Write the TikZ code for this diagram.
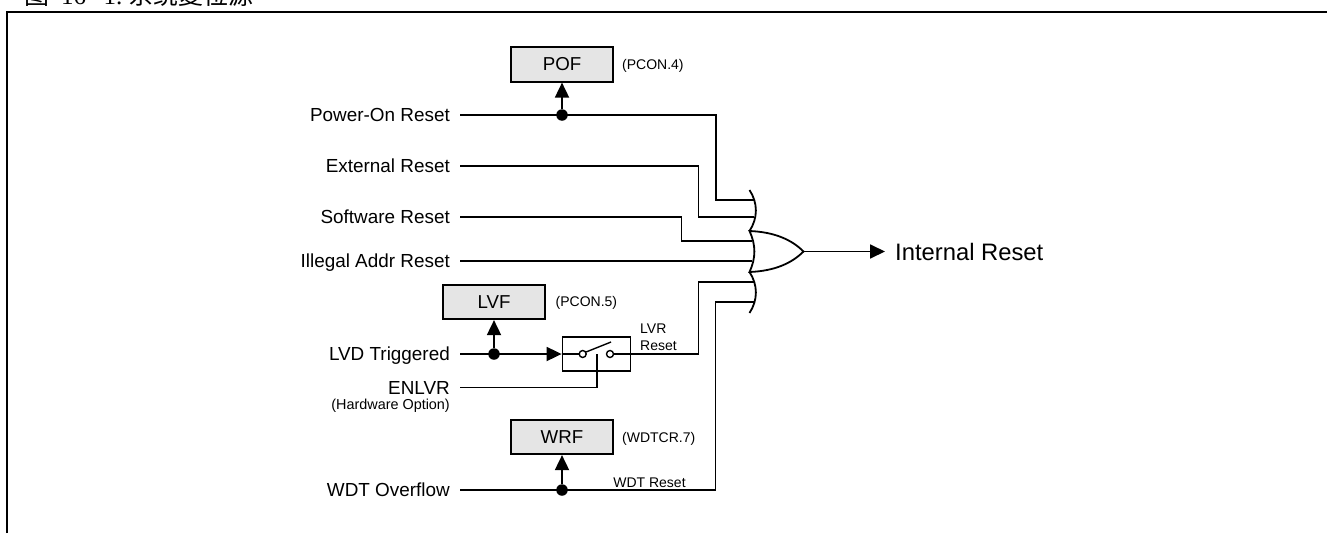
\documentclass[tikz,border=0pt]{standalone}
\usepackage{fontspec}
\setmainfont{Liberation Sans}
\newfontfamily\cjk{Noto Sans CJK SC}
\newfontfamily\capserif{Liberation Serif}
\usetikzlibrary{arrows.meta}
\tikzset{
 x=1pt,y=-1pt,
 wire/.style={line width=1.8pt,line join=miter},
 flag/.style={draw=black,fill=black!10,line width=1.7pt,minimum width=102pt,minimum height=34.5pt,inner sep=0pt,font=\fontsize{18.7}{20}\selectfont},
 lbl/.style={font=\fontsize{18.9}{20}\selectfont,anchor=base east,inner sep=0pt},
 small/.style={font=\fontsize{14}{15}\selectfont,inner sep=0pt},
 dotn/.style={circle,fill=black,inner sep=0pt,minimum size=11.5pt},
 hollow/.style={circle,draw=black,fill=white,line width=1.4pt,inner sep=0pt,minimum size=7pt},
 tip/.style={-{Triangle[length=15pt,width=14pt]}},
}
\begin{document}
\begin{tikzpicture}
\useasboundingbox (0,0) rectangle (1327,533);
% frame
\draw[line width=1.8pt] (7,533) -- (7,12) -- (1327,12);
\node[anchor=base west,inner sep=0pt,font=\fontsize{25}{27}\selectfont] (cap) at (24,4) {{\cjk 图}\hspace{12pt}{\capserif 16\hspace{9pt}-1.}\hspace{6pt}{\cjk 系统复位源}};
% flags
\node[flag] (pof) at (562,64.5) {POF};
\node[flag] (lvf) at (494,302) {LVF};
\node[flag] (wrf) at (562,437) {WRF};
\node[small,anchor=west] (pofn) at (622,66) {(PCON.4)};
\node[small,anchor=west] (lvfn) at (555.5,303) {(PCON.5)};
\node[small,anchor=west] (wrfn) at (622,439) {(WDTCR.7)};
% labels
\node[lbl] (por) at (450,121.5) {Power-On Reset};
\node[lbl] (ext) at (450,172.5) {External Reset};
\node[lbl] (sw) at (450,223) {Software Reset};
\node[lbl] (ill) at (450,267) {Illegal Addr Reset};
\node[lbl] (lvd) at (450,360.5) {LVD Triggered};
\node[lbl] (en) at (450,394) {ENLVR};
\node[font=\fontsize{14.4}{15}\selectfont,inner sep=0pt,anchor=base east] (hw) at (450,409) {(Hardware Option)};
\node[lbl] (wdt) at (450,496.5) {WDT Overflow};
\node[anchor=west,inner sep=0pt,font=\fontsize{23.8}{25}\selectfont] (int) at (895,251.5) {Internal Reset};
% coordinates
\coordinate (pa) at (562,115);
\coordinate (la) at (494,354);
\coordinate (wa) at (562,490);
\node[dotn] (pd) at (pa) {};
\node[dotn] (ld) at (la) {};
\node[dotn] (wd) at (wa) {};
% gate
\coordinate (g1) at (749.5,231);
\coordinate (g2) at (749.5,272);
\coordinate (ga) at (803.5,251.5);
\coordinate (gt) at (749.5,190);
\coordinate (gb) at (749.5,313);
\draw[wire,fill=white] (g1) .. controls (775,232) and (792,240) .. (ga) .. controls (792,263) and (775,271) .. (g2) .. controls (756,258) and (756,245) .. (g1) -- cycle;
\draw[wire] (gt) .. controls (758,203) and (758,218) .. (g1);
\draw[wire] (g2) .. controls (758,285) and (758,300) .. (gb);
% inputs
\draw[wire] (460,115) -- (716,115) |- (754,200);
\draw[wire] (460,166) -- (698.5,166) |- (754,217);
\draw[wire] (460,216.7) -- (681.5,216.7) |- (752,241);
\draw[wire] (460,261) -- (752,261);
\draw[wire] (698.5,354) |- (754,282);
\draw[wire] (715.5,490) |- (754,302);
% LVD
\node[draw,line width=1.8pt,minimum width=68pt,minimum height=34pt,inner sep=0pt] (sbox) at (596.5,354) {};
\draw[wire,tip] (460,354) -- (sbox.west);
\node[hollow] (s1) at (582.7,354) {};
\node[hollow] (s2) at (610,354) {};
\draw[wire] (sbox.west) -- (s1);
\draw[line width=1.4pt] (586,352) -- (611,342);
\draw[wire] (s2) -- (698.5,354);
\draw[wire] (460,387.5) -| (596.7,354);
\node[small,anchor=west] (lr) at (640,328.5) {LVR};
\node[small,anchor=west] (lr2) at (640,345.5) {Reset};
% WDT
\draw[wire] (460,490) -- (715.5,490);
\node[small,anchor=south,inner sep=0pt] (wr) at (649.5,488) {WDT Reset};
\draw[wire,tip] (pd) -- (pof.south);
\draw[wire,tip] (ld) -- (lvf.south);
\draw[wire,tip] (wd) -- (wrf.south);
% output
\draw[wire,tip] (ga) -- (885,251.5);
\end{tikzpicture}
\end{document}
